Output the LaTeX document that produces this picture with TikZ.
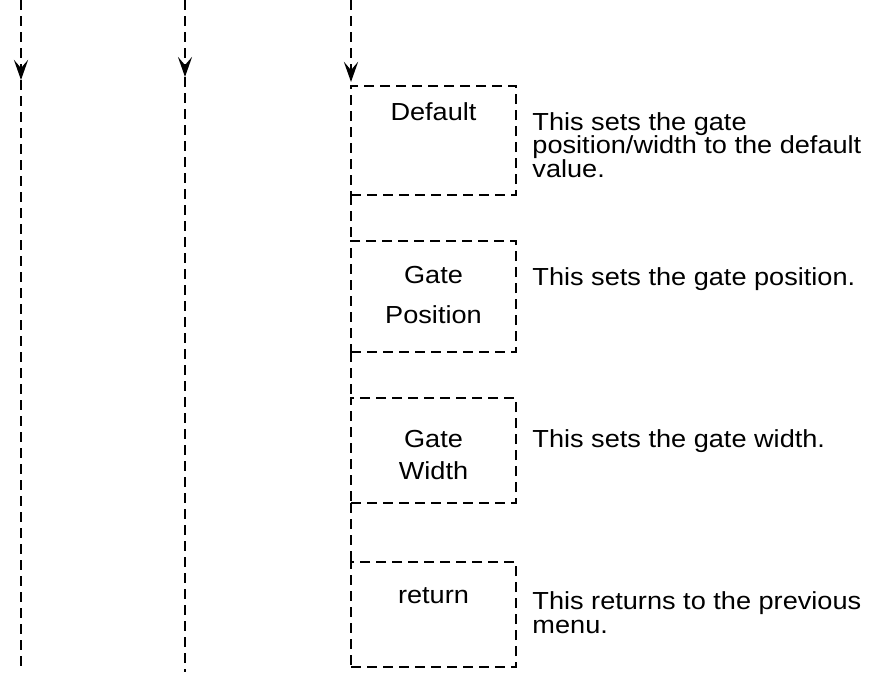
\documentclass[tikz,border=0pt]{standalone}
\usepackage{fontspec}
\setmainfont{Liberation Sans}[FakeStretch=1.1]
\usetikzlibrary{arrows.meta, positioning, calc}
\tikzset{
  every picture/.style={line width=2.2pt, x=0.75pt, y=-0.75pt},
  flow/.style={draw, dash pattern=on 7.5pt off 4.5pt},
  flowarrow/.style={flow, -{Stealth[length=15pt, width=10.5pt, inset=6pt]}},
  menubox/.style={flow, minimum width=123.75pt, inner sep=0pt, outer sep=0pt, anchor=north west},
  keylabel/.style={font=\fontsize{18.5}{24}\selectfont, align=center, anchor=base, inner sep=0pt},
  note/.style={font=\fontsize{18.5}{17.6}\selectfont, align=left, anchor=base west, inner sep=0pt},
}

\begin{document}
\begin{tikzpicture}
  \useasboundingbox (0,0) rectangle (873,672);
  % ---- channel lines ----
  \foreach \n/\x/\t/\w in {a/21/80/2.2pt, b/185/77/1.6pt} {
    \coordinate (top\n) at (\x,0);
    \coordinate (tip\n) at (\x,\t);
    \coordinate (bot\n) at (\x,672);
    \draw[flowarrow, line width=\w] (top\n) -- (tip\n);
    \draw[flow, line width=\w] (tip\n) -- (bot\n);
  }
  % ---- menu boxes ----
  \node[menubox, minimum height=81.75pt] (def) at (351,86) {};
  \node[menubox, minimum height=83.25pt] (gpos) at (351,241) {};
  \node[menubox, minimum height=78.75pt] (gwid) at (351,398) {};
  \node[menubox, minimum height=78.75pt] (ret) at (351,562) {};
  \node[keylabel] (defl) at ($(def.north)+(0,34)$) {Default};
  \node[keylabel] (gposl) at ($(gpos.north)+(0,82)$) {Gate\\[6pt]Position};
  \node[keylabel] (gwidl) at ($(gwid.north)+(0,81)$) {Gate\\Width};
  \node[keylabel] (retl) at ($(ret.north)+(0,41)$) {return};
  % ---- notes ----
  \node[note] (defn) at ($(def.north east)+(15,91)$) {This sets the gate\\position/width to the default\\value.};
  \node[note] (gposn) at ($(gpos.north east)+(15,44)$) {This sets the gate position.};
  \node[note] (gwidn) at ($(gwid.north east)+(15,49)$) {This sets the gate width.};
  \node[note] (retn) at ($(ret.north east)+(15,71)$) {This returns to the previous\\menu.};
  % ---- menu chain ----
  \coordinate (topc) at (351,0);
  \draw[flowarrow, shorten >=3pt] (topc) -- (def.north west);
  \foreach \u/\v in {def/gpos, gpos/gwid, gwid/ret} \draw[flow] (\u.south west) -- (\v.north west);
\end{tikzpicture}
\end{document}
